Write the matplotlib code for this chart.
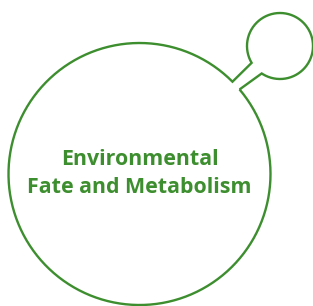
import numpy as np
import matplotlib
matplotlib.use("Agg")
import matplotlib.pyplot as plt
from matplotlib.path import Path
from matplotlib.patches import PathPatch

W, H = 313, 306
GREEN = "#3d8e2e"

title_lines = ["Environmental", "Fate and Metabolism"]

# geometry (pixels, y downward)
big_c, big_r = (139.5, 174.0), 131.0
small_c, small_r = (280.0, 46.0), 33.0
big_gap = (-40.2, -44.8)      # arc from first angle around to second (+360)
small_gap = (149.3, 123.7)

fig = plt.figure(figsize=(W / 100, H / 100), dpi=100)
ax = fig.add_axes([0, 0, 1, 1])
ax.set_xlim(0, W)
ax.set_ylim(H, 0)
ax.axis("off")

def arc(c, r, a0, a1, n=400):
    t = np.radians(np.linspace(a0, a1, n))
    return np.column_stack([c[0] + r * np.cos(t), c[1] + r * np.sin(t)])

big = arc(big_c, big_r, big_gap[0], big_gap[1] + 360)
small = arc(small_c, small_r, small_gap[0], small_gap[1] + 360)
pts = np.vstack([big, small, big[:1]])
codes = [Path.MOVETO] + [Path.LINETO] * (len(pts) - 1)
ax.add_patch(PathPatch(Path(pts, codes), fill=False, edgecolor=GREEN,
                       linewidth=1.7, joinstyle="miter"))

for y, s in zip([165, 193], title_lines):
    ax.text(big_c[0], y, s, ha="center", va="baseline",
            fontsize=15.4, fontweight="bold", family="Open Sans", color=GREEN)

fig.savefig("out.png", dpi=100)
